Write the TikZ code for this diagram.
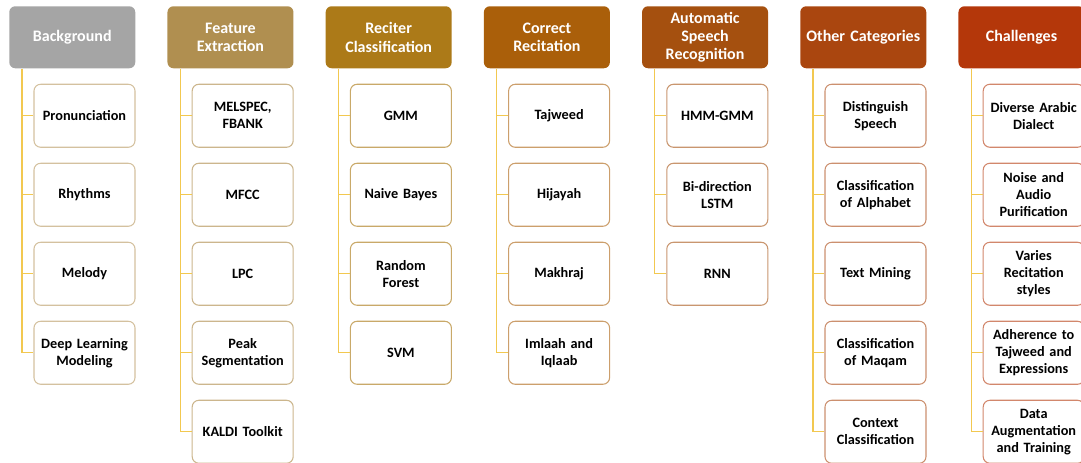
\documentclass[tikz,border=0pt]{standalone}
\usepackage{fontspec}
\setmainfont{Carlito}
\usepackage{xcolor}
\usetikzlibrary{positioning, calc}

\definecolor{bgGray}{RGB}{165,165,165}
\definecolor{featC}{RGB}{176,143,80}
\definecolor{recC}{RGB}{172,122,24}
\definecolor{corC}{RGB}{170,95,10}
\definecolor{asrC}{RGB}{165,80,15}
\definecolor{othC}{RGB}{170,70,15}
\definecolor{chaC}{RGB}{180,55,10}
\definecolor{linkGold}{RGB}{242,200,80}

\begin{document}
\begin{tikzpicture}[
  node distance=11.2pt and 23.75pt,
  head/.style={fill=#1, rounded corners=4.5pt, align=center, text=white,
               font=\fontsize{12}{13.8}\selectfont\bfseries, text width=90pt,
               minimum width=94.5pt, minimum height=46.5pt, inner sep=2pt},
  leaf/.style={draw=#1, line width=0.8pt, fill=white, rounded corners=5pt,
               align=center, font=\fontsize{10.7}{12.8}\selectfont\bfseries,
               text width=71pt, minimum width=75.75pt, minimum height=47.25pt,
               inner sep=2pt},
  link/.style={draw=linkGold, line width=1pt}
]
% headers
\node[head=bgGray] (bg) {Background};
\useasboundingbox ($(bg.north west)+(-6.75pt,4.5pt)$) rectangle +(810.75pt,-347.25pt);
\node[head=featC, right=of bg] (fe) {Feature\\Extraction};
\node[head=recC, right=of fe] (rc) {Reciter\\Classification};
\node[head=corC, right=of rc] (cr) {Correct\\Recitation};
\node[head=asrC, right=of cr] (asr) {Automatic\\Speech\\Recognition};
\node[head=othC, right=of asr] (oc) {Other Categories};
\node[head=chaC, right=of oc] (ch) {Challenges};

% Background
\node[leaf=featC!55!white, below=11.4pt of bg.south east, anchor=north east] (bg1) {Pronunciation};
\node[leaf=featC!55!white, below=of bg1] (bg2) {Rhythms};
\node[leaf=featC!55!white, below=of bg2] (bg3) {Melody};
\node[leaf=featC!55!white, below=of bg3] (bg4) {Deep Learning\\Modeling};

% Feature Extraction
\node[leaf=featC!65!white, below=11.4pt of fe.south east, anchor=north east] (fe1) {MELSPEC,\\FBANK};
\node[leaf=featC!65!white, below=of fe1] (fe2) {MFCC};
\node[leaf=featC!65!white, below=of fe2] (fe3) {LPC};
\node[leaf=featC!65!white, below=of fe3] (fe4) {Peak\\Segmentation};
\node[leaf=featC!65!white, below=of fe4] (fe5) {KALDI Toolkit};

% Reciter Classification
\node[leaf=recC!65!white, below=11.4pt of rc.south east, anchor=north east] (rc1) {GMM};
\node[leaf=recC!65!white, below=of rc1] (rc2) {Naive Bayes};
\node[leaf=recC!65!white, below=of rc2] (rc3) {Random\\Forest};
\node[leaf=recC!65!white, below=of rc3] (rc4) {SVM};

% Correct Recitation
\node[leaf=corC!60!white, below=11.4pt of cr.south east, anchor=north east] (cr1) {Tajweed};
\node[leaf=corC!60!white, below=of cr1] (cr2) {Hijayah};
\node[leaf=corC!60!white, below=of cr2] (cr3) {Makhraj};
\node[leaf=corC!60!white, below=of cr3] (cr4) {Imlaah and\\Iqlaab};

% Automatic Speech Recognition
\node[leaf=asrC!60!white, below=11.4pt of asr.south east, anchor=north east] (asr1) {HMM-GMM};
\node[leaf=asrC!60!white, below=of asr1] (asr2) {Bi-direction\\LSTM};
\node[leaf=asrC!60!white, below=of asr2] (asr3) {RNN};

% Other Categories
\node[leaf=othC!60!white, below=11.4pt of oc.south east, anchor=north east] (oc1) {Distinguish\\Speech};
\node[leaf=othC!60!white, below=of oc1] (oc2) {Classification\\of Alphabet};
\node[leaf=othC!60!white, below=of oc2] (oc3) {Text Mining};
\node[leaf=othC!60!white, below=of oc3] (oc4) {Classification\\of Maqam};
\node[leaf=othC!60!white, below=of oc4] (oc5) {Context\\Classification};

% Challenges
\node[leaf=chaC!60!white, below=11.4pt of ch.south east, anchor=north east] (ch1) {Diverse Arabic\\Dialect};
\node[leaf=chaC!60!white, below=of ch1] (ch2) {Noise and\\Audio\\Purification};
\node[leaf=chaC!60!white, below=of ch2] (ch3) {Varies\\Recitation\\styles};
\node[leaf=chaC!60!white, below=of ch3] (ch4) {Adherence to\\Tajweed and\\Expressions};
\node[leaf=chaC!60!white, below=of ch4] (ch5) {Data\\Augmentation\\and Training};

% trunks and branches
\coordinate (bgt) at ($(bg.south west)+(9.75pt,0)$);
\coordinate (fet) at ($(fe.south west)+(9.75pt,0)$);
\coordinate (rct) at ($(rc.south west)+(9.75pt,0)$);
\coordinate (crt) at ($(cr.south west)+(9.75pt,0)$);
\coordinate (asrt) at ($(asr.south west)+(9.75pt,0)$);
\coordinate (oct) at ($(oc.south west)+(9.75pt,0)$);
\coordinate (cht) at ($(ch.south west)+(9.75pt,0)$);
\draw[link] (bgt) |- (bg1.west) (bgt) |- (bg2.west) (bgt) |- (bg3.west) (bgt) |- (bg4.west);
\draw[link] (fet) |- (fe1.west) (fet) |- (fe2.west) (fet) |- (fe3.west) (fet) |- (fe4.west) (fet) |- (fe5.west);
\draw[link] (rct) |- (rc1.west) (rct) |- (rc2.west) (rct) |- (rc3.west) (rct) |- (rc4.west);
\draw[link] (crt) |- (cr1.west) (crt) |- (cr2.west) (crt) |- (cr3.west) (crt) |- (cr4.west);
\draw[link] (asrt) |- (asr1.west) (asrt) |- (asr2.west) (asrt) |- (asr3.west);
\draw[link] (oct) |- (oc1.west) (oct) |- (oc2.west) (oct) |- (oc3.west) (oct) |- (oc4.west) (oct) |- (oc5.west);
\draw[link] (cht) |- (ch1.west) (cht) |- (ch2.west) (cht) |- (ch3.west) (cht) |- (ch4.west) (cht) |- (ch5.west);
\end{tikzpicture}
\end{document}
